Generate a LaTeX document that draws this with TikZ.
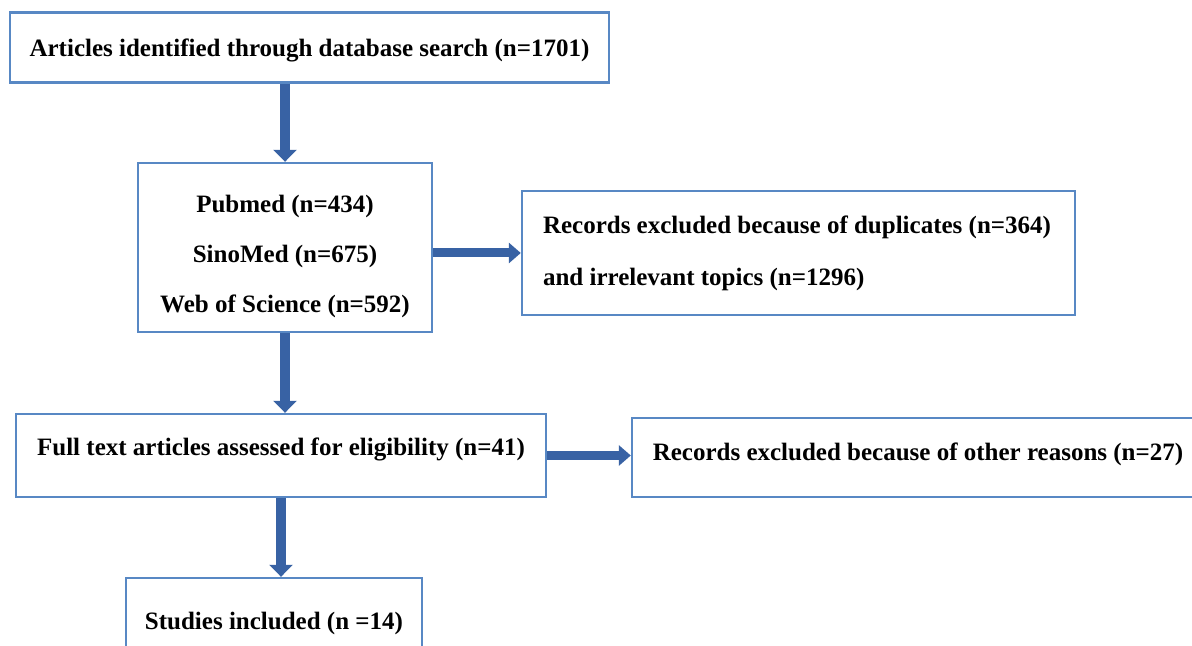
\documentclass[tikz,border=0pt]{standalone}
\usepackage{fontspec}
\setmainfont{Liberation Serif}
\usetikzlibrary{arrows.meta,calc}
\definecolor{boxblue}{RGB}{88,136,196}
\definecolor{arrowblue}{RGB}{56,98,164}
\tikzset{
  stagebox/.style={draw=boxblue, line width=1.2pt, fill=white, rectangle,
    font=\fontsize{12.5}{25}\selectfont\bfseries, align=center, inner sep=0pt},
  downarrow/.style={draw=arrowblue, line width=5pt,
    -{Triangle[width=11.5pt,length=6pt]}},
  sidearrow/.style={draw=arrowblue, line width=4.5pt,
    -{Triangle[width=10pt,length=6pt]}}
}
\begin{document}
\begin{tikzpicture}[x=0.5pt,y=-0.5pt]
  \useasboundingbox (0,0) rectangle (1192,646);
  \clip (0,0) rectangle (1192,646);
  \fill[white] (0,0) rectangle (1192,646);

  % main column
  \node[stagebox, minimum width=299.5pt, minimum height=35pt] (search)
    at (309.5,47.5) {\rule{0pt}{11.6pt}Articles identified through database search (n=1701)};
  \node[stagebox, minimum width=147pt, minimum height=84.5pt] (sources)
    at (285,247.5) {\rule{0pt}{17.6pt}Pubmed (n=434)\\SinoMed (n=675)\\Web of Science (n=592)};
  \node[stagebox, minimum width=265pt, minimum height=41.5pt, text depth=9pt] (fulltext)
    at (281,455.5) {Full text articles assessed for eligibility (n=41)};
  \node[stagebox, minimum width=148pt, minimum height=45.5pt] (included)
    at (274,623.5) {Studies included (n =14)};

  % exclusion boxes (left-aligned text with the font's own word spacing)
  \node[stagebox, minimum width=276.5pt, minimum height=62pt, align=left,
        text width=255.5pt, font=\fontsize{12.5}{26}\selectfont\bfseries] (dupes)
    at (798.5,253) {\spaceskip=0pt\xspaceskip=0pt
                    \mbox{Records excluded because of duplicates (n=364)}\\
                    \mbox{and irrelevant topics (n=1296)}};
  \node[stagebox, minimum width=286pt, minimum height=39.5pt, text depth=6pt] (other)
    at (918,457.5) {Records excluded because of other reasons (n=27)};

  % connectors
  \draw[downarrow] (search.south -| sources.north) -- (sources.north);
  \draw[downarrow] (sources.south) -- (sources.south |- fulltext.north);
  \draw[downarrow] (fulltext.south) -- (fulltext.south |- included.north);
  \draw[sidearrow] (sources.east |- dupes.west) -- (dupes.west);
  \draw[sidearrow] (fulltext.east) -- (fulltext.east -| other.west);
\end{tikzpicture}
\end{document}
